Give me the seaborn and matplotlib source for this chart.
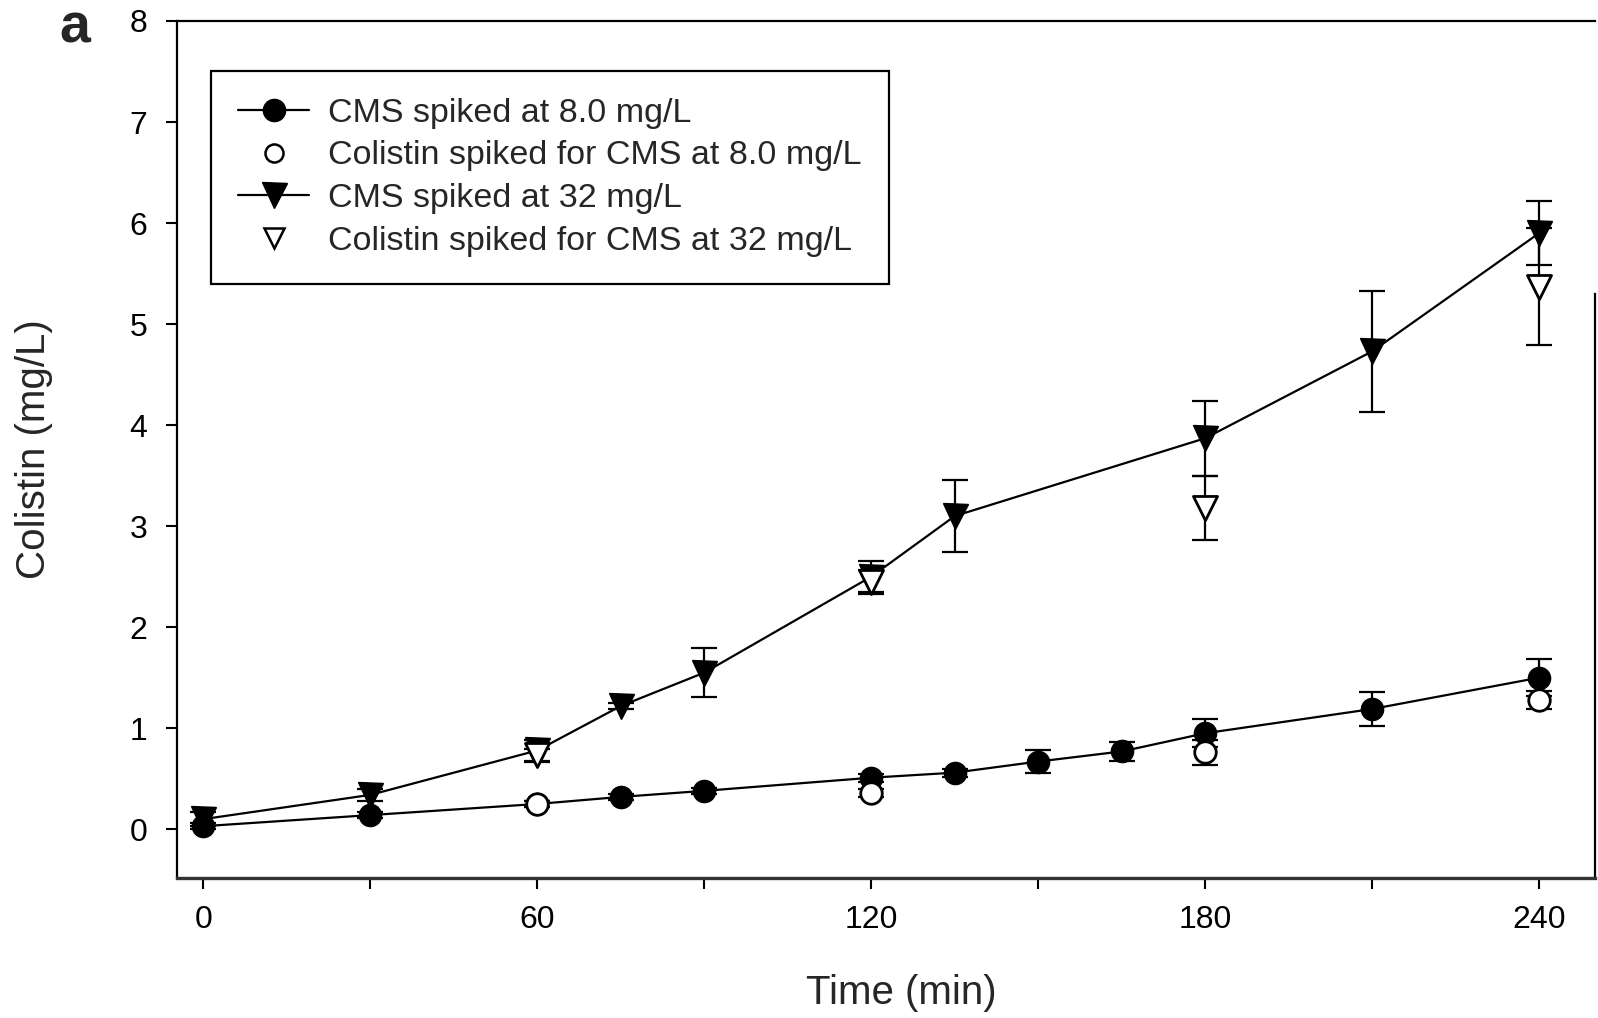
import matplotlib
matplotlib.use("Agg")
import matplotlib.pyplot as plt
from matplotlib.lines import Line2D
import numpy as np
import pandas as pd
import seaborn as sns

# Sampling times (min) and measured colistin concentrations (mg/L, mean and SD)
time_cms8 = [0, 30, 60, 75, 90, 120, 135, 150, 165, 180, 210, 240]
cms8_mean = [0.03, 0.14, 0.25, 0.32, 0.38, 0.51, 0.56, 0.67, 0.77, 0.95, 1.19, 1.50]
cms8_sd = [0.03, 0.03, 0.03, 0.03, 0.03, 0.04, 0.04, 0.115, 0.09, 0.14, 0.17, 0.185]

time_cms32 = [0, 30, 60, 75, 90, 120, 135, 180, 210, 240]
cms32_mean = [0.10, 0.34, 0.78, 1.22, 1.55, 2.50, 3.10, 3.87, 4.73, 5.90]
cms32_sd = [0.07, 0.06, 0.10, 0.03, 0.24, 0.15, 0.355, 0.37, 0.60, 0.32]

time_col = [60, 120, 180, 240]
col8_mean = [0.25, 0.36, 0.76, 1.28]
col8_sd = [0.03, 0.04, 0.12, 0.09]
col32_mean = [0.73, 2.45, 3.18, 5.37]
col32_sd = [0.06, 0.12, 0.32, 0.58]

labels = [
    "CMS spiked at 8.0 mg/L",
    "Colistin spiked for CMS at 8.0 mg/L",
    "CMS spiked at 32 mg/L",
    "Colistin spiked for CMS at 32 mg/L",
]

x_ticks = [0, 30, 60, 90, 120, 150, 180, 210, 240]
x_ticklabels = ["0", "", "60", "", "120", "", "180", "", "240"]
y_ticks = [0, 1, 2, 3, 4, 5, 6, 7, 8]

sns.set_style("ticks")
plt.rcParams["font.family"] = ["Liberation Sans", "DejaVu Sans"]

df8 = pd.DataFrame({"t": time_cms8, "c": cms8_mean, "sd": cms8_sd})
df32 = pd.DataFrame({"t": time_cms32, "c": cms32_mean, "sd": cms32_sd})
dfc8 = pd.DataFrame({"t": time_col, "c": col8_mean, "sd": col8_sd})
dfc32 = pd.DataFrame({"t": time_col, "c": col32_mean, "sd": col32_sd})

fig = plt.figure(figsize=(15.98, 10.18), dpi=100)
ax = fig.add_axes([0.1106, 0.1378, 0.8874, 0.8416])

err_kw = dict(fmt="none", ecolor="black", elinewidth=1.6, capsize=9.5, capthick=1.6, zorder=2)
for d in (df8, df32, dfc8, dfc32):
    ax.errorbar(d["t"], d["c"], yerr=d["sd"], **err_kw)

sns.lineplot(data=df8, x="t", y="c", ax=ax, color="black", linewidth=1.6,
             marker="o", markersize=16, markeredgecolor="black", markeredgewidth=1,
             zorder=3, legend=False)
sns.lineplot(data=df32, x="t", y="c", ax=ax, color="black", linewidth=1.6,
             marker="v", markersize=18, markeredgecolor="black", markeredgewidth=1,
             zorder=3, legend=False)
sns.scatterplot(data=dfc8, x="t", y="c", ax=ax, marker="o", s=240,
                facecolor="white", edgecolor="black", linewidth=2.0, zorder=4, legend=False)
sns.scatterplot(data=dfc32, x="t", y="c", ax=ax, marker="v", s=300,
                facecolor="white", edgecolor="black", linewidth=2.0, zorder=4, legend=False)

ax.set_xlim(-4.8, 250)
ax.set_ylim(-0.48, 8.0)
ax.set_xticks(x_ticks)
ax.set_xticklabels(x_ticklabels)
ax.set_yticks(y_ticks)
ax.tick_params(axis="both", direction="out", length=8, width=1.5, colors="black", labelsize=23)
ax.tick_params(axis="y", pad=13)
ax.tick_params(axis="x", pad=12)

for side in ("left", "top", "right"):
    ax.spines[side].set_linewidth(1.6)
    ax.spines[side].set_color("black")
ax.spines["bottom"].set_linewidth(2.4)
ax.spines["bottom"].set_color("#333333")
ax.spines["right"].set_bounds(-0.48, 5.3)

ax.set_xlabel("Time (min)", fontsize=29)
ax.set_ylabel("Colistin (mg/L)", fontsize=29)
ax.xaxis.set_label_coords(0.511, -0.112)
ax.yaxis.set_label_coords(-0.087, 0.50)

handles = [
    Line2D([], [], color="black", lw=1.6, marker="o", markersize=16, markeredgecolor="black"),
    Line2D([], [], color="none", marker="o", markersize=13, markerfacecolor="white",
           markeredgecolor="black", markeredgewidth=1.8),
    Line2D([], [], color="black", lw=1.6, marker="v", markersize=18, markeredgecolor="black"),
    Line2D([], [], color="none", marker="v", markersize=14, markerfacecolor="white",
           markeredgecolor="black", markeredgewidth=1.8),
]
leg = ax.legend(handles, labels, loc="upper left", bbox_to_anchor=(0.024, 0.942),
                fontsize=24.5, frameon=True, fancybox=False, edgecolor="black",
                framealpha=1, borderpad=0.8, labelspacing=0.34, handlelength=2.1,
                handletextpad=0.55, borderaxespad=0)
leg.get_frame().set_linewidth(1.6)

fig.text(0.047, 0.972, "a", fontsize=40, fontweight="bold", ha="center", va="center")

fig.savefig("out.png", dpi=100)
